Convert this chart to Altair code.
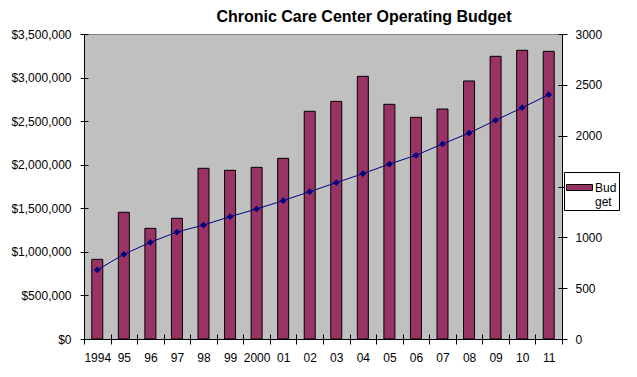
import altair as alt
import pandas as pd

years = ["1994", "95", "96", "97", "98", "99", "2000", "01", "02", "03",
         "04", "05", "06", "07", "08", "09", "10", "11"]
budget = [914000, 1454000, 1270000, 1385000, 1959000, 1936000, 1970000, 2073000,
          2613000, 2727000, 3014000, 2693000, 2544000, 2639000, 2961000, 3244000,
          3313000, 3301000]
second_series = [679, 833, 951, 1052, 1121, 1203, 1279, 1361, 1449, 1538, 1626,
                 1721, 1807, 1918, 2026, 2151, 2275, 2403]
left_ticks = list(range(0, 3500001, 500000))
right_ticks = [0, 500, 1000, 1500, 2000, 2500, 3000]

df = pd.DataFrame({
    "year": years,
    "Budget": budget,
    "value": second_series,
    "series": ["Budget"] * len(years),
})

FONT = "Liberation Sans"
W, H = 478, 305
xscale = alt.Scale(paddingInner=0, paddingOuter=0)
common = dict(domainColor="black", tickColor="black", labelColor="black",
              labelFont=FONT, labelFontSize=12, grid=False, title=None)

left_scale = alt.Scale(domain=[0, 3500000], nice=False)
right_scale = alt.Scale(domain=[0, 3000], nice=False)

bars = alt.Chart(df).mark_bar(size=11, stroke="black", strokeWidth=1).encode(
    x=alt.X("year:N", sort=years, scale=xscale,
            axis=alt.Axis(labelAngle=0, tickBand="extent", tickSize=5,
                          labelPadding=8, **common)),
    y=alt.Y("Budget:Q", scale=left_scale,
            axis=alt.Axis(orient="left", format="$,.0f", values=left_ticks,
                          tickSize=4, labelPadding=9, **common)),
    color=alt.Color(
        "series:N", scale=alt.Scale(range=["#993366"]),
        legend=alt.Legend(
            title=None, orient="none", legendX=480, legendY=138,
            fillColor="white", strokeColor="black", padding=2,
            cornerRadius=0,
            symbolType="M-1,-0.23H1V0.23H-1Z", symbolSize=676,
            symbolStrokeColor="black", symbolStrokeWidth=1,
            symbolOpacity=1,
            labelExpr="['Bud', 'get']", labelFont=FONT, labelFontSize=12,
            labelColor="black", labelBaseline="middle", labelOffset=2,
        ),
    ),
)

line = alt.Chart(df).mark_line(
    color="#000080", strokeWidth=1,
    point=alt.OverlayMarkDef(shape="diamond", filled=True, color="#000080", size=45),
).encode(
    x=alt.X("year:N", sort=years, scale=xscale, axis=None),
    y=alt.Y("value:Q", scale=right_scale,
            axis=alt.Axis(orient="right", values=right_ticks, format="d",
                          tickSize=5, labelPadding=8,
                          labelExpr="datum.value == 1500 ? '' : datum.label",
                          **common)),
)

# inner halves of the "cross" tick marks (Excel style)
inner_left = alt.Chart(df).mark_bar(opacity=0).encode(
    x=alt.X("year:N", sort=years, scale=xscale,
            axis=alt.Axis(orient="top", offset=-H, labels=False, domain=False,
                          tickBand="extent", tickSize=5, tickColor="black",
                          grid=False, title=None)),
    y=alt.Y("Budget:Q", scale=left_scale,
            axis=alt.Axis(orient="right", offset=-W, labels=False, domain=False,
                          values=left_ticks, tickSize=4, tickColor="black",
                          grid=False, title=None)),
)

inner_right = alt.Chart(df).mark_point(opacity=0).encode(
    x=alt.X("year:N", sort=years, scale=xscale, axis=None),
    y=alt.Y("value:Q", scale=right_scale,
            axis=alt.Axis(orient="left", offset=-W, labels=False, domain=False,
                          values=right_ticks, tickSize=4, tickColor="black",
                          grid=False, title=None)),
)

chart = alt.layer(bars, line, inner_left, inner_right).resolve_scale(
    y="independent"
).resolve_axis(x="independent", y="independent").properties(
    width=W, height=H,
    padding={"left": 76, "top": 26, "right": 67, "bottom": 30},
    autosize=alt.AutoSizeParams(type="none"),
    title=alt.Title("Chronic Care Center Operating Budget", font=FONT,
                    fontSize=16, fontWeight="bold", color="black",
                    dx=41, offset=3),
    background="white",
).configure_view(
    fill="#C0C0C0", stroke="#808080", strokeWidth=1,
)

chart.save("out.html", embed_options={"renderer": "svg", "actions": False})
